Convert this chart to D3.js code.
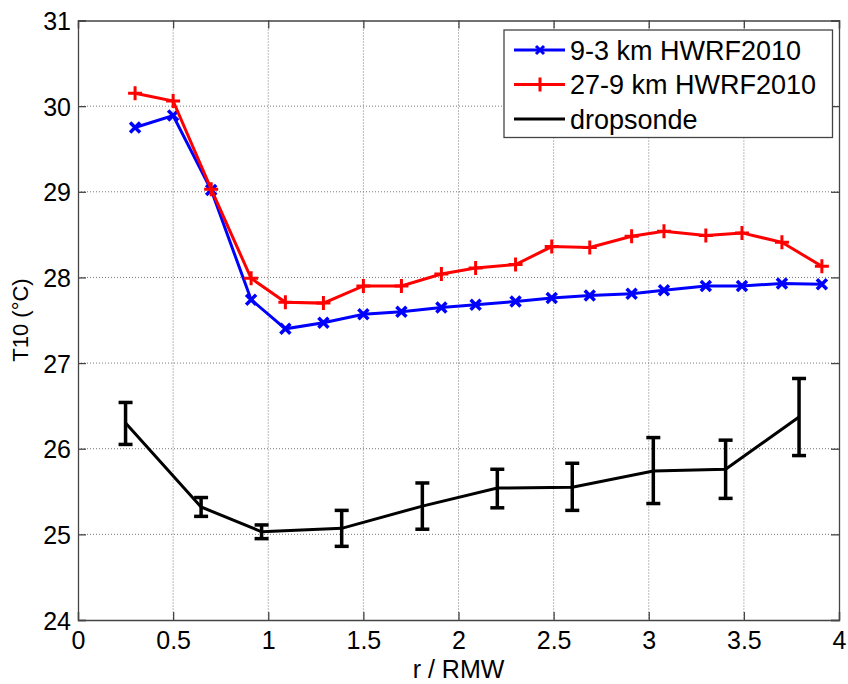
<!DOCTYPE html>
<html>
<head>
<meta charset="utf-8">
<script src="https://cdn.jsdelivr.net/npm/d3@7"></script>
<style>
  body { margin: 0; background: #fff; }
  svg text { font-family: "Liberation Sans", Arial, sans-serif; fill: #000; }
</style>
</head>
<body>
<div class="wrapper"></div>
<script>
// model radii (r / RMW)
var modelR = [0.30, 0.50, 0.70, 0.91, 1.09, 1.29, 1.50, 1.70, 1.91, 2.09, 2.30, 2.49, 2.69, 2.91, 3.08, 3.30, 3.49, 3.70, 3.91];
var hwrf93 = [29.75, 29.89, 29.02, 27.74, 27.40, 27.47, 27.57, 27.60, 27.65, 27.68, 27.72, 27.76, 27.79, 27.81, 27.85, 27.90, 27.90, 27.93, 27.92];
var hwrf279 = [30.15, 30.06, 29.03, 27.99, 27.71, 27.70, 27.90, 27.90, 28.04, 28.11, 28.15, 28.36, 28.35, 28.48, 28.54, 28.49, 28.52, 28.41, 28.13];

// dropsonde composite with error bars
var dropR = [0.25, 0.647, 0.965, 1.386, 1.81, 2.204, 2.598, 3.024, 3.404, 3.79];
var dropT = [26.30, 25.32, 25.03, 25.07, 25.33, 25.54, 25.55, 25.74, 25.76, 26.37];
var dropHi = [26.54, 25.43, 25.11, 25.28, 25.60, 25.76, 25.83, 26.13, 26.10, 26.82];
var dropLo = [26.05, 25.21, 24.95, 24.86, 25.06, 25.31, 25.28, 25.36, 25.42, 25.92];

var xTicks = [0, 0.5, 1, 1.5, 2, 2.5, 3, 3.5, 4];
var yTicks = [24, 25, 26, 27, 28, 29, 30, 31];
var legendNames = ["9-3 km HWRF2010", "27-9 km HWRF2010", "dropsonde"];
var legendColors = ["#0000ff", "#ff0000", "#000000"];

var width = 848, height = 684;
var margin = { left: 78, right: 9, top: 20.5, bottom: 64 };

var svg = d3.select(".wrapper").append("svg")
  .attr("width", width)
  .attr("height", height);

var x = d3.scaleLinear().domain([0, 4]).range([margin.left, width - margin.right]);
var y = d3.scaleLinear().domain([24, 31]).range([height - margin.bottom, margin.top]);

var x0 = x.range()[0], x1 = x.range()[1], y0 = y.range()[0], y1 = y.range()[1];

// dotted grid
svg.append("g").selectAll("line")
  .data(xTicks.slice(1, -1))
  .join("line")
  .attr("x1", d => x(d)).attr("x2", d => x(d))
  .attr("y1", y1).attr("y2", y0)
  .attr("stroke", "#777").attr("stroke-width", 1).attr("stroke-dasharray", "1,2");
svg.append("g").selectAll("line")
  .data(yTicks.slice(1, -1))
  .join("line")
  .attr("y1", d => y(d)).attr("y2", d => y(d))
  .attr("x1", x0).attr("x2", x1)
  .attr("stroke", "#777").attr("stroke-width", 1).attr("stroke-dasharray", "1,2");

// axes, ticks inside + box
var bottomAxis = svg.append("g")
  .attr("transform", "translate(0," + y0 + ")")
  .call(d3.axisBottom(x).tickValues(xTicks).tickSize(-8).tickFormat(d3.format("")));
var topAxis = svg.append("g")
  .attr("transform", "translate(0," + y1 + ")")
  .call(d3.axisTop(x).tickValues(xTicks).tickSize(-8).tickFormat(""));
var leftAxis = svg.append("g")
  .attr("transform", "translate(" + x0 + ",0)")
  .call(d3.axisLeft(y).tickValues(yTicks).tickSize(-8).tickFormat(d3.format("d")));
var rightAxis = svg.append("g")
  .attr("transform", "translate(" + x1 + ",0)")
  .call(d3.axisRight(y).tickValues(yTicks).tickSize(-8).tickFormat(""));

[bottomAxis, topAxis, leftAxis, rightAxis].forEach(function (g) {
  g.selectAll("path.domain").attr("stroke", "#444").attr("stroke-width", 1.3);
  g.selectAll(".tick line").attr("stroke", "#444").attr("stroke-width", 1.3);
  g.selectAll(".tick text").style("font-size", "25px").attr("fill", "#000");
});
bottomAxis.selectAll(".tick text").attr("dy", null).attr("y", 29);
leftAxis.selectAll(".tick text").attr("x", -7).attr("dy", "0.36em");

// axis labels
svg.append("text")
  .attr("x", (x0 + x1) / 2).attr("y", 678)
  .attr("text-anchor", "middle")
  .style("font-size", "25px")
  .text("r / RMW");
svg.append("text")
  .attr("transform", "translate(28,320) rotate(-90)")
  .attr("text-anchor", "middle")
  .style("font-size", "22px")
  .text("T10 (\u00B0C)");

var line = d3.line().x(d => x(d[0])).y(d => y(d[1]));

var redPts = modelR.map((r, i) => [r, hwrf279[i]]);
var bluePts = modelR.map((r, i) => [r, hwrf93[i]]);

// 9-3 km (blue, x markers)
svg.append("path")
  .datum(bluePts)
  .attr("d", line)
  .attr("fill", "none").attr("stroke", "#0000ff").attr("stroke-width", 3);
svg.append("g").selectAll("path")
  .data(bluePts)
  .join("path")
  .attr("transform", d => "translate(" + x(d[0]) + "," + y(d[1]) + ")")
  .attr("d", "M-5,-5L5,5M-5,5L5,-5")
  .attr("stroke", "#0000ff").attr("stroke-width", 3.5);

// 27-9 km (red, + markers)
svg.append("path")
  .datum(redPts)
  .attr("d", line)
  .attr("fill", "none").attr("stroke", "#ff0000").attr("stroke-width", 3);
svg.append("g").selectAll("path")
  .data(redPts)
  .join("path")
  .attr("transform", d => "translate(" + x(d[0]) + "," + y(d[1]) + ")")
  .attr("d", "M-7,0L7,0M0,-7L0,7")
  .attr("stroke", "#ff0000").attr("stroke-width", 3);

// dropsonde line + error bars
var dropPts = dropR.map((r, i) => ({ r: r, t: dropT[i], hi: dropHi[i], lo: dropLo[i] }));
svg.append("path")
  .datum(dropPts)
  .attr("d", d3.line().x(d => x(d.r)).y(d => y(d.t)))
  .attr("fill", "none").attr("stroke", "#000").attr("stroke-width", 3);
var eb = svg.append("g").selectAll("g")
  .data(dropPts)
  .join("g")
  .attr("stroke", "#000").attr("stroke-width", 3.5);
eb.append("line")
  .attr("x1", d => x(d.r)).attr("x2", d => x(d.r))
  .attr("y1", d => y(d.hi)).attr("y2", d => y(d.lo));
eb.append("line")
  .attr("x1", d => x(d.r) - 7).attr("x2", d => x(d.r) + 7)
  .attr("y1", d => y(d.hi)).attr("y2", d => y(d.hi));
eb.append("line")
  .attr("x1", d => x(d.r) - 7).attr("x2", d => x(d.r) + 7)
  .attr("y1", d => y(d.lo)).attr("y2", d => y(d.lo));

// legend
var legend = svg.append("g");
legend.append("rect")
  .attr("x", 504).attr("y", 30).attr("width", 328.5).attr("height", 107.5)
  .attr("fill", "#fff").attr("stroke", "#444").attr("stroke-width", 1.3);
var items = legend.selectAll("g.item")
  .data(legendNames)
  .join("g")
  .attr("class", "item")
  .attr("transform", (d, i) => "translate(0," + (50 + i * 34.5) + ")");
items.append("line")
  .attr("x1", 514).attr("x2", 565).attr("y1", 0).attr("y2", 0)
  .attr("stroke", (d, i) => legendColors[i]).attr("stroke-width", 3);
items.filter((d, i) => i === 0).append("path")
  .attr("d", "M536,-4L544,4M536,4L544,-4")
  .attr("stroke", legendColors[0]).attr("stroke-width", 3);
items.filter((d, i) => i === 1).append("path")
  .attr("d", "M533,0L547,0M540,-7L540,7")
  .attr("stroke", legendColors[1]).attr("stroke-width", 3);
items.append("text")
  .attr("x", 570).attr("y", 0).attr("dy", "0.36em")
  .style("font-size", "27px")
  .text(d => d);
</script>
</body>
</html>
